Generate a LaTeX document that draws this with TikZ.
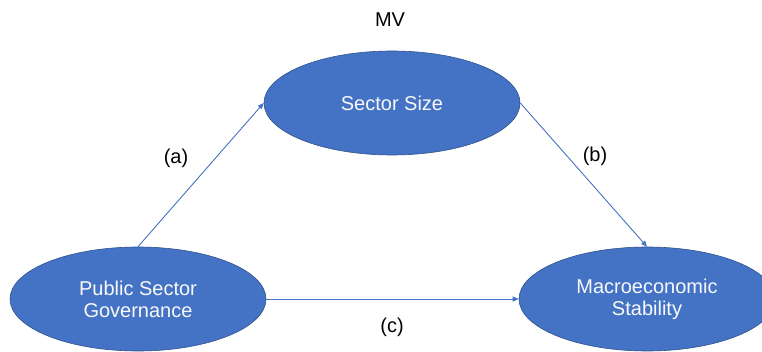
\documentclass[tikz,border=0pt]{standalone}
\usepackage{fontspec}
\setmainfont{Liberation Sans}
\usetikzlibrary{shapes.geometric,arrows.meta}
\definecolor{boxblue}{HTML}{4472C4}
\definecolor{rimblue}{HTML}{2F528F}
\begin{document}
\begin{tikzpicture}[
    x=1pt, y=-1pt,
    var/.style={ellipse, draw=rimblue, line width=0.6pt, fill=boxblue, text=white!95!gray, minimum width=256pt, minimum height=104pt, inner sep=0pt, align=center, font=\fontsize{20}{22}\selectfont},
    lbl/.style={font=\fontsize{20}{22}\selectfont},
    arrow/.style={-{Triangle[length=6pt,width=5pt]}, draw=boxblue, line width=0.9pt}
]
    \useasboundingbox (0,0) rectangle (762,352);

    \node[var] (size) at (392,103) {Sector Size};
    \node[var] (gov) at (138,299) {Public Sector\\Governance};
    \node[var] (stab) at (647,299) {Macroeconomic\\Stability};

    \node[lbl] (mv) at (390,20) {MV};

    \draw[arrow] (gov.north) -- (size.west);
    \draw[arrow] (size.east) -- (stab.north);
    \draw[arrow] (gov.east) -- (stab.west);

    \node[lbl] (a) at (176,158) {(a)};
    \node[lbl] (b) at (595,156) {(b)};
    \node[lbl] (c) at (392,327) {(c)};
\end{tikzpicture}
\end{document}
